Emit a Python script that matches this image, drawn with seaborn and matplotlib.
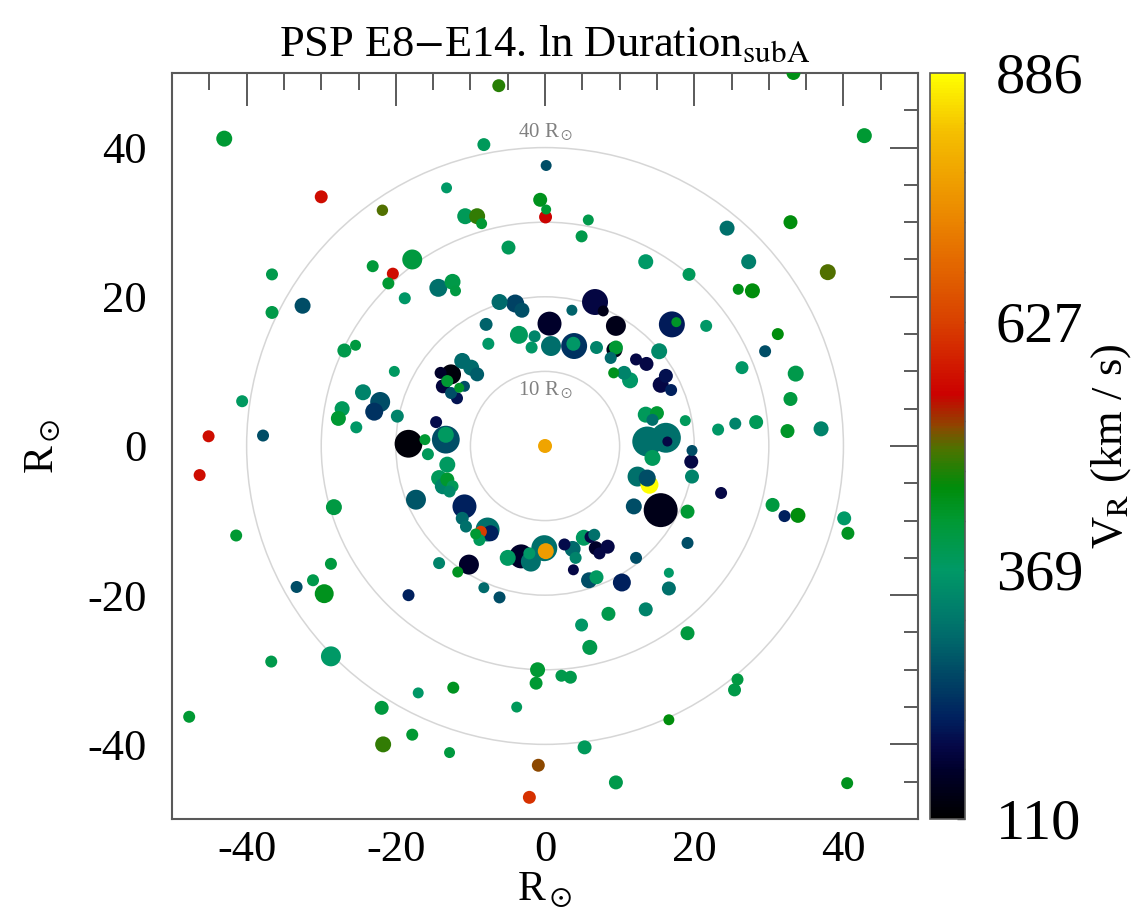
"""
PSP E8-E14 scatter of sub-A events in the ecliptic plane.
Colour = radial speed V_R, marker size = ln Duration.
"""

import matplotlib
matplotlib.use("Agg")
import matplotlib.pyplot as plt
import seaborn as sns
import pandas as pd
import numpy as np
from matplotlib.colors import LinearSegmentedColormap, Normalize
from matplotlib.cm import ScalarMappable
from matplotlib.patches import Circle
from matplotlib.ticker import MultipleLocator, FixedLocator

# Event positions (R_sun), ln duration and radial speed (km/s)
X_POS = [
    -43.0, -30.0, -21.8, -17.8, -23.1, -20.4, -21.0, -18.8, -36.6, -36.6, -32.5,
    -6.2, -8.2, 0.15, -13.2, -0.65, 0.15, 0.07, -10.7, -9.1, -8.5, 5.8, 4.9, -4.9,
    13.5, -14.3, -12.4, -12.0, -6.1, -4.0, -3.1, 6.7, 3.6, 7.8,
    -7.9, -7.6, -3.5, -1.4, -1.8, 0.6, 0.8, 3.9, 3.8, 6.9, 9.5, 9.3, 8.8, 9.5,
    12.2, 13.6, 15.3, 9.2, 10.6, 11.4, 15.5, 16.2, 16.9,
    17.0, 17.6, 21.6, 31.2, 29.5, 26.4, 33.6, 32.9, 18.8, 23.2, 25.5, 28.3, 32.5,
    37.0, 19.7, 19.6, 19.7, 23.6, 15.5, 19.1, 19.1, 30.5, 32.1, 33.9, 40.1, 40.6,
    16.6, 16.6,
    19.1, 25.8, 25.4, 16.6, 40.5,
    33.3, 42.8, 32.9, 24.4, 27.3, 37.9, 19.3, 25.9, 27.8,
    -26.9, -25.4, -20.2, -40.6, -24.4, -22.1, -22.9, -27.2, -27.7, -25.3, -19.8,
    -37.8, -45.1, -46.3, -18.3, -17.3, -28.3, -41.4, -28.7,
    -31.1, -33.3, -29.6, -18.3, -28.7, -36.7, -17.0, -21.9, -17.8, -21.7, -47.7,
    -11.7, -6.1, -8.2, 3.8, 5.9, 6.9, 10.3, 13.5, 8.5, 4.9, 6.0, -1.0, -1.2, 2.2,
    3.4, -12.3, -3.8, 5.3, -12.8, -0.9, 9.5, -2.1,
    -12.6, -14.0, -13.7, -13.1, -11.8, -11.5, -10.8, -12.6, -11.1, -9.9, -9.1,
    -14.6, -13.3, -13.3, -16.1, -15.7, -13.1, -14.2, -13.1, -12.4, -13.7, -12.8,
    -10.8, -11.1, -10.6, -7.7, -7.3, -8.6, -9.3, -8.8, -14.2, -10.2,
    -0.1, 0.1, -3.2, -1.9, -5.0, -2.1, 2.6, 3.7, 4.1, 5.2, 6.1, 6.6, 6.8, 8.4,
    7.3, 12.2,
    13.5, 15.0, 14.4, 13.7, 16.2, 16.4, 14.4, 12.4, 14.0, 13.7, 11.9,
    0.0,
]
Y_POS = [
    41.2, 33.4, 31.6, 25.0, 24.1, 23.1, 21.8, 19.8, 23.0, 17.9, 18.8,
    48.3, 40.4, 37.6, 34.6, 33.0, 31.7, 30.7, 30.8, 30.8, 29.8, 30.3, 28.1, 26.6,
    24.7, 21.2, 22.0, 20.8, 19.3, 19.1, 18.2, 19.3, 18.2, 18.1,
    16.3, 13.7, 14.9, 14.7, 13.2, 16.4, 13.4, 13.4, 13.7, 13.2, 13.2, 12.9, 11.8,
    16.1, 11.6, 11.0, 12.7, 9.8, 9.8, 8.8, 8.2, 9.4, 7.5,
    16.3, 16.6, 16.1, 15.0, 12.7, 10.5, 9.7, 6.3, 3.4, 2.2, 3.0, 3.2, 2.0,
    2.3, -0.6, -2.1, -4.1, -6.3, -8.6, -8.8, -13.0, -7.9, -9.4, -9.3, -9.7, -11.7,
    -17.0, -19.1,
    -25.1, -31.3, -32.7, -36.7, -45.2,
    50.0, 41.6, 30.0, 29.2, 24.7, 23.3, 23.0, 21.0, 20.8,
    12.8, 13.5, 10.0, 6.0, 7.2, 5.9, 4.6, 5.0, 3.7, 2.5, 4.0,
    1.4, 1.3, -3.9, 0.3, -7.2, -8.2, -12.0, -15.8,
    -18.0, -18.9, -19.8, -20.0, -28.2, -28.9, -33.1, -35.1, -38.7, -40.0, -36.3,
    -16.9, -20.3, -19.0, -16.6, -18.0, -17.6, -18.3, -21.9, -22.5, -24.0, -27.0,
    -30.0, -31.8, -30.8, -31.0, -32.4, -35.0, -40.4, -41.1, -42.8, -45.1, -47.1,
    9.6, 9.8, 8.0, 8.7, 6.4, 7.8, 8.0, 7.1, 11.4, 10.5, 9.6,
    3.2, 0.85, 1.5, 0.85, -1.1, -2.5, -4.3, -4.5, -5.4, -5.4, -6.1,
    -8.1, -9.7, -10.8, -11.2, -11.7, -11.5, -11.8, -12.6, -15.7, -15.9,
    -13.7, -14.1, -14.8, -15.5, -15.0, -14.4, -13.2, -13.8, -15.0, -12.3, -12.2,
    -11.9, -13.7, -13.5, -14.4, -15.0,
    4.2, 4.4, 3.5, 0.6, 1.1, 0.6, -1.6, -4.1, -5.2, -4.3, -8.1,
    0.0,
]
LN_DUR = [
    3.78, 3.34, 3.15, 4.5, 3.22, 3.22, 3.22, 3.22, 3.22, 3.34, 3.78,
    3.34, 3.34, 3.1, 3.1, 3.48, 3.0, 3.34, 3.78, 3.78, 3.1, 3.1, 3.22, 3.48,
    3.63, 4.12, 3.78, 3.1, 3.78, 4.12, 3.63, 5.89, 3.1, 3.1,
    3.34, 3.22, 4.12, 3.22, 3.22, 5.39, 4.5, 5.89, 3.48, 3.34, 3.48, 3.78, 3.22,
    4.5, 3.22, 3.48, 3.78, 3.1, 3.48, 3.78, 3.78, 3.48, 3.22,
    5.89, 3.0, 3.22, 3.22, 3.22, 3.34, 3.78, 3.48, 3.1, 3.22, 3.22, 3.48, 3.48,
    3.63, 3.1, 3.48, 3.48, 3.22, 8.3, 3.48, 3.22, 3.48, 3.22, 3.63, 3.48, 3.34,
    3.0, 3.48,
    3.48, 3.22, 3.34, 3.1, 3.22,
    3.48, 3.63, 3.48, 3.63, 3.63, 3.78, 3.34, 3.1, 3.63,
    3.48, 3.1, 3.1, 3.22, 3.78, 4.5, 4.12, 3.63, 3.63, 3.22, 3.34,
    3.22, 3.22, 3.22, 6.39, 4.5, 3.78, 3.22, 3.22,
    3.22, 3.22, 4.3, 3.22, 4.5, 3.22, 3.1, 3.48, 3.22, 3.78, 3.22,
    3.1, 3.22, 3.1, 3.1, 3.78, 3.48, 4.12, 3.48, 3.48, 3.34, 3.63,
    3.63, 3.34, 3.22, 3.34, 3.22, 3.1, 3.48, 3.1, 3.34, 3.48, 3.34,
    4.5, 3.22, 3.48, 3.22, 3.22, 3.0, 3.1, 3.22, 3.78, 3.78, 3.48,
    3.22, 6.39, 3.78, 3.1, 3.22, 3.78, 3.78, 3.48, 3.22, 3.78, 3.22,
    5.39, 3.34, 3.22, 5.39, 3.78, 3.22, 3.1, 3.22, 3.22, 4.5,
    5.89, 3.78, 5.39, 4.5, 3.78, 3.22, 3.22, 3.78, 3.22, 3.78, 3.22,
    3.22, 3.48, 3.48, 3.22, 3.22,
    3.78, 3.48, 3.22, 7.0, 7.0, 3.0, 3.78, 4.5, 4.12, 3.95, 3.78,
    3.48,
]
V_R = [
    420, 565, 495, 410, 415, 565, 420, 365, 395, 400, 265,
    475, 380, 265, 370, 440, 420, 552, 385, 480, 420, 395, 395, 385,
    370, 310, 400, 405, 300, 255, 270, 180, 290, 140,
    290, 365, 380, 340, 365, 160, 305, 235, 365, 335, 420, 140, 300,
    140, 185, 185, 345, 440, 335, 365, 185, 195, 215,
    210, 430, 365, 455, 265, 365, 395, 410, 380, 365, 335, 385, 430,
    335, 265, 185, 335, 185, 140, 420, 265, 410, 215, 455, 370, 435,
    370, 310,
    410, 405, 400, 455, 440,
    445, 420, 455, 310, 330, 495, 380, 445, 455,
    395, 410, 375, 375, 335, 265, 235, 380, 420, 365, 335,
    265, 565, 565, 120, 275, 405, 420, 410,
    395, 265, 440, 215, 370, 395, 365, 410, 420, 480, 420,
    435, 265, 300, 185, 265, 375, 215, 335, 395, 365, 395,
    420, 420, 395, 395, 435, 380, 380, 410, 518, 395, 610,
    125, 160, 175, 420, 200, 430, 265, 265, 300, 300, 285,
    190, 265, 375, 420, 380, 375, 380, 425, 385, 335, 345,
    215, 300, 310, 310, 215, 625, 420, 380, 335, 160,
    310, 770, 160, 310, 375, 365, 190, 300, 335, 375, 185,
    310, 160, 185, 185, 265,
    380, 420, 310, 310, 310, 185, 380, 310, 886, 265, 265,
    780,
]

# Colour scale of V_R (value, rgb)
VR_NODES = [110, 160, 185, 215, 265, 300, 330, 369, 420, 455, 495, 518, 552,
            627, 733, 826, 886]
VR_COLORS = [
    (0.0, 0.0, 0.0), (0.0, 0.0, 0.17), (0.02, 0.03, 0.28), (0.0, 0.13, 0.37),
    (0.0, 0.3, 0.4), (0.0, 0.42, 0.42), (0.0, 0.5, 0.42), (0.0, 0.6, 0.4),
    (0.0, 0.6, 0.2), (0.0, 0.55, 0.04), (0.3, 0.45, 0.0), (0.55, 0.28, 0.0),
    (0.8, 0.0, 0.0), (0.85, 0.25, 0.0), (0.92, 0.52, 0.0), (0.96, 0.75, 0.0),
    (1.0, 1.0, 0.0),
]
VR_MIN, VR_MAX = 110, 886
CBAR_TICKS = [110, 369, 627, 886]
RINGS = [10, 20, 30, 40]

sns.set_theme(style="white")
plt.rcParams["font.family"] = ["Liberation Serif", "DejaVu Serif"]
plt.rcParams["mathtext.fontset"] = "stix"
plt.rcParams["axes.unicode_minus"] = False
plt.rcParams["text.color"] = "black"
plt.rcParams["axes.labelcolor"] = "black"

pos = [(v - VR_MIN) / (VR_MAX - VR_MIN) for v in VR_NODES]
cmap = LinearSegmentedColormap.from_list("vr", list(zip(pos, VR_COLORS)))
norm = Normalize(VR_MIN, VR_MAX)

df = pd.DataFrame({"x": X_POS, "y": Y_POS, "ln_dur": LN_DUR, "vr": V_R})
# big markers first so that small ones stay visible on top
df = df.sort_values("ln_dur", ascending=False, kind="stable")

fig = plt.figure(figsize=(11.4, 9.17), dpi=100)
ax = fig.add_axes([0.1509, 0.1069, 0.6544, 0.8135])

for r in RINGS:
    ax.add_patch(Circle((0, 0), r, fill=False, ec="0.84", lw=1.1, zorder=0))
ax.text(0, 7.4, r"10 R$_\odot$", ha="center", va="center", color="0.5", fontsize=15)
ax.text(0, 42.0, r"40 R$_\odot$", ha="center", va="center", color="0.5", fontsize=15)

sns.scatterplot(
    data=df, x="x", y="y",
    hue="vr", palette=cmap, hue_norm=(VR_MIN, VR_MAX),
    size="ln_dur", sizes=(52, 670), size_norm=(3, 9),
    linewidth=0, edgecolor="none", alpha=1.0,
    legend=False, ax=ax, zorder=3,
)

ax.set_xlim(-50, 50)
ax.set_ylim(-50, 50)
ax.set_xticks([-40, -20, 0, 20, 40])
ax.set_yticks([-40, -20, 0, 20, 40])
ax.xaxis.set_minor_locator(MultipleLocator(5))
ax.yaxis.set_minor_locator(MultipleLocator(5))
ax.tick_params(which="both", direction="in", top=True, right=True,
               colors="0.3", width=1.3, labelcolor="black")
ax.tick_params(axis="x", which="major", length=24, labelsize=32, pad=8)
ax.tick_params(axis="x", which="minor", length=12)
ax.tick_params(axis="y", which="major", length=20, labelsize=32, pad=18)
ax.tick_params(axis="y", which="minor", length=10)
for sp in ax.spines.values():
    sp.set_color("0.35")
    sp.set_linewidth(1.5)

ax.set_xlabel(r"R$_\odot$", fontsize=30, labelpad=0)
ax.set_ylabel(r"R$_\odot$", fontsize=30, labelpad=18)
ax.set_title(r"PSP E8$-$E14. ln Duration$_{\mathrm{subA}}$", fontsize=32, pad=12)

cax = fig.add_axes([0.8158, 0.1069, 0.0307, 0.8135])
cb = fig.colorbar(ScalarMappable(norm=norm, cmap=cmap), cax=cax)
cb.set_ticks(CBAR_TICKS)
cb.ax.yaxis.set_minor_locator(FixedLocator(np.linspace(VR_MIN, VR_MAX, 16)))
cb.ax.tick_params(which="both", direction="in", length=6, width=1.0,
                  colors="0.3", labelcolor="black", labelsize=42, pad=22)
cb.outline.set_edgecolor("0.35")
cb.outline.set_linewidth(1.2)
cb.set_label(r"V$_\mathrm{R}$ (km / s)", fontsize=32, labelpad=4)

fig.savefig("out.png", dpi=100)
plt.close(fig)
